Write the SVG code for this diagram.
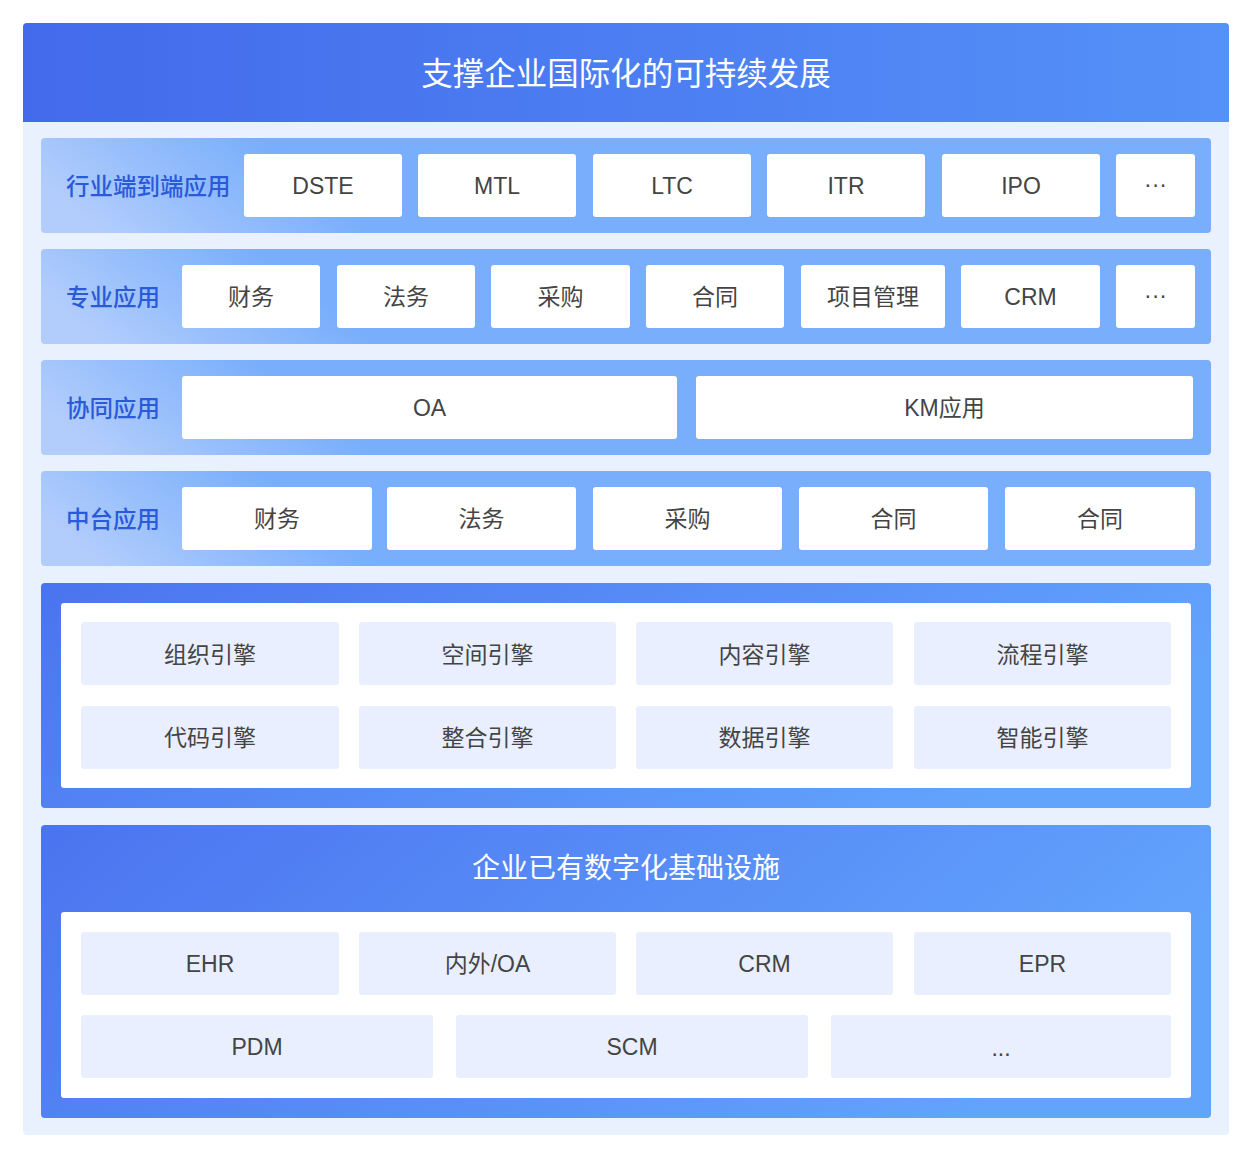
<svg xmlns="http://www.w3.org/2000/svg" width="1252" height="1154" viewBox="0 0 1252 1154">
<defs>
<linearGradient id="gHead" x1="0" y1="0" x2="1" y2="0">
<stop offset="0" stop-color="#436AEB"/><stop offset="1" stop-color="#5591F8"/>
</linearGradient>
<linearGradient id="gRow" gradientUnits="userSpaceOnUse" x1="60" y1="95" x2="170" y2="-40">
<stop offset="0" stop-color="#B2CDFC"/><stop offset="1" stop-color="#78AEFB"/>
</linearGradient>
<linearGradient id="gPanel" x1="0" y1="0" x2="1" y2="0.3">
<stop offset="0" stop-color="#4B74F0"/><stop offset="1" stop-color="#62A3FC"/>
</linearGradient>
<style>
.row{fill:url(#gRow)}
.wb{fill:#FFFFFF}
.lb{fill:#E9EFFE}
.t{font-family:"Liberation Sans","Noto Sans CJK SC",sans-serif;font-size:23px;fill:#444444;text-anchor:middle}
.c{font-family:"Noto Sans CJK SC","Liberation Sans",sans-serif;font-size:23px;fill:#444444;text-anchor:middle}
.lab{font-family:"Noto Sans CJK SC",sans-serif;font-size:23.5px;font-weight:500;fill:#2A5AD9}
.title{font-family:"Noto Sans CJK SC",sans-serif;fill:#FFFFFF;text-anchor:middle}
</style>
</defs>
<rect x="23" y="23" width="1206" height="1112" rx="4" fill="#EAF1FE"/>
<g id="header">
<path d="M27 23 H1225 A4 4 0 0 1 1229 27 V122 H23 V27 A4 4 0 0 1 27 23 Z" fill="url(#gHead)"/>
<text class="title" x="626" y="85" font-size="31.5">支撑企业国际化的可持续发展</text>
</g>
<g id="row-industry">
<g transform="translate(41,138)"><rect class="row" width="1170" height="95" rx="4"/></g>
<text class="lab" x="66" y="195">行业端到端应用</text>
<rect class="wb" x="244" y="154" width="158" height="63" rx="3"/><text class="t" x="323" y="194">DSTE</text>
<rect class="wb" x="418" y="154" width="158" height="63" rx="3"/><text class="t" x="497" y="194">MTL</text>
<rect class="wb" x="593" y="154" width="158" height="63" rx="3"/><text class="t" x="672" y="194">LTC</text>
<rect class="wb" x="767" y="154" width="158" height="63" rx="3"/><text class="t" x="846" y="194">ITR</text>
<rect class="wb" x="942" y="154" width="158" height="63" rx="3"/><text class="t" x="1021" y="194">IPO</text>
<rect class="wb" x="1116" y="154" width="79" height="63" rx="3"/><text class="t" x="1155.5" y="192" font-size="18">···</text>
</g>
<g id="row-pro">
<g transform="translate(41,249)"><rect class="row" width="1170" height="95" rx="4"/></g>
<text class="lab" x="66" y="306">专业应用</text>
<rect class="wb" x="182" y="265" width="138" height="63" rx="3"/><text class="c" x="251" y="305">财务</text>
<rect class="wb" x="337" y="265" width="138" height="63" rx="3"/><text class="c" x="406" y="305">法务</text>
<rect class="wb" x="491" y="265" width="139" height="63" rx="3"/><text class="c" x="560.5" y="305">采购</text>
<rect class="wb" x="646" y="265" width="138" height="63" rx="3"/><text class="c" x="715" y="305">合同</text>
<rect class="wb" x="801" y="265" width="144" height="63" rx="3"/><text class="c" x="873" y="305">项目管理</text>
<rect class="wb" x="961" y="265" width="139" height="63" rx="3"/><text class="t" x="1030.5" y="305">CRM</text>
<rect class="wb" x="1116" y="265" width="79" height="63" rx="3"/><text class="t" x="1155.5" y="303" font-size="18">···</text>
</g>
<g id="row-collab">
<g transform="translate(41,360)"><rect class="row" width="1170" height="95" rx="4"/></g>
<text class="lab" x="66" y="417">协同应用</text>
<rect class="wb" x="182" y="376" width="495" height="63" rx="3"/><text class="t" x="429.5" y="416">OA</text>
<rect class="wb" x="696" y="376" width="497" height="63" rx="3"/><text class="t" x="944.5" y="416">KM应用</text>
</g>
<g id="row-middle">
<g transform="translate(41,471)"><rect class="row" width="1170" height="95" rx="4"/></g>
<text class="lab" x="66" y="528">中台应用</text>
<rect class="wb" x="182" y="487" width="190" height="63" rx="3"/><text class="c" x="277" y="527">财务</text>
<rect class="wb" x="387" y="487" width="189" height="63" rx="3"/><text class="c" x="481.5" y="527">法务</text>
<rect class="wb" x="593" y="487" width="189" height="63" rx="3"/><text class="c" x="687.5" y="527">采购</text>
<rect class="wb" x="799" y="487" width="189" height="63" rx="3"/><text class="c" x="893.5" y="527">合同</text>
<rect class="wb" x="1005" y="487" width="190" height="63" rx="3"/><text class="c" x="1100" y="527">合同</text>
</g>
<g id="engines">
<rect x="41" y="583" width="1170" height="225" rx="4" fill="url(#gPanel)"/>
<rect class="wb" x="61" y="603" width="1130" height="185" rx="3"/>
<rect class="lb" x="81" y="622" width="258" height="63" rx="3"/><text class="c" x="210" y="663">组织引擎</text>
<rect class="lb" x="359" y="622" width="257" height="63" rx="3"/><text class="c" x="487.5" y="663">空间引擎</text>
<rect class="lb" x="636" y="622" width="257" height="63" rx="3"/><text class="c" x="764.5" y="663">内容引擎</text>
<rect class="lb" x="914" y="622" width="257" height="63" rx="3"/><text class="c" x="1042.5" y="663">流程引擎</text>
<rect class="lb" x="81" y="706" width="258" height="63" rx="3"/><text class="c" x="210" y="746">代码引擎</text>
<rect class="lb" x="359" y="706" width="257" height="63" rx="3"/><text class="c" x="487.5" y="746">整合引擎</text>
<rect class="lb" x="636" y="706" width="257" height="63" rx="3"/><text class="c" x="764.5" y="746">数据引擎</text>
<rect class="lb" x="914" y="706" width="257" height="63" rx="3"/><text class="c" x="1042.5" y="746">智能引擎</text>
</g>
<g id="infrastructure">
<rect x="41" y="825" width="1170" height="293" rx="4" fill="url(#gPanel)"/>
<text class="title" x="626" y="878" font-size="28">企业已有数字化基础设施</text>
<rect class="wb" x="61" y="912" width="1130" height="186" rx="3"/>
<rect class="lb" x="81" y="932" width="258" height="63" rx="3"/><text class="t" x="210" y="972">EHR</text>
<rect class="lb" x="359" y="932" width="257" height="63" rx="3"/><text class="t" x="487.5" y="972">内外/OA</text>
<rect class="lb" x="636" y="932" width="257" height="63" rx="3"/><text class="t" x="764.5" y="972">CRM</text>
<rect class="lb" x="914" y="932" width="257" height="63" rx="3"/><text class="t" x="1042.5" y="972">EPR</text>
<rect class="lb" x="81" y="1015" width="352" height="63" rx="3"/><text class="t" x="257" y="1055">PDM</text>
<rect class="lb" x="456" y="1015" width="352" height="63" rx="3"/><text class="t" x="632" y="1055">SCM</text>
<rect class="lb" x="831" y="1015" width="340" height="63" rx="3"/><text class="t" x="1001" y="1056" font-size="18">...</text>
</g>
</svg>
